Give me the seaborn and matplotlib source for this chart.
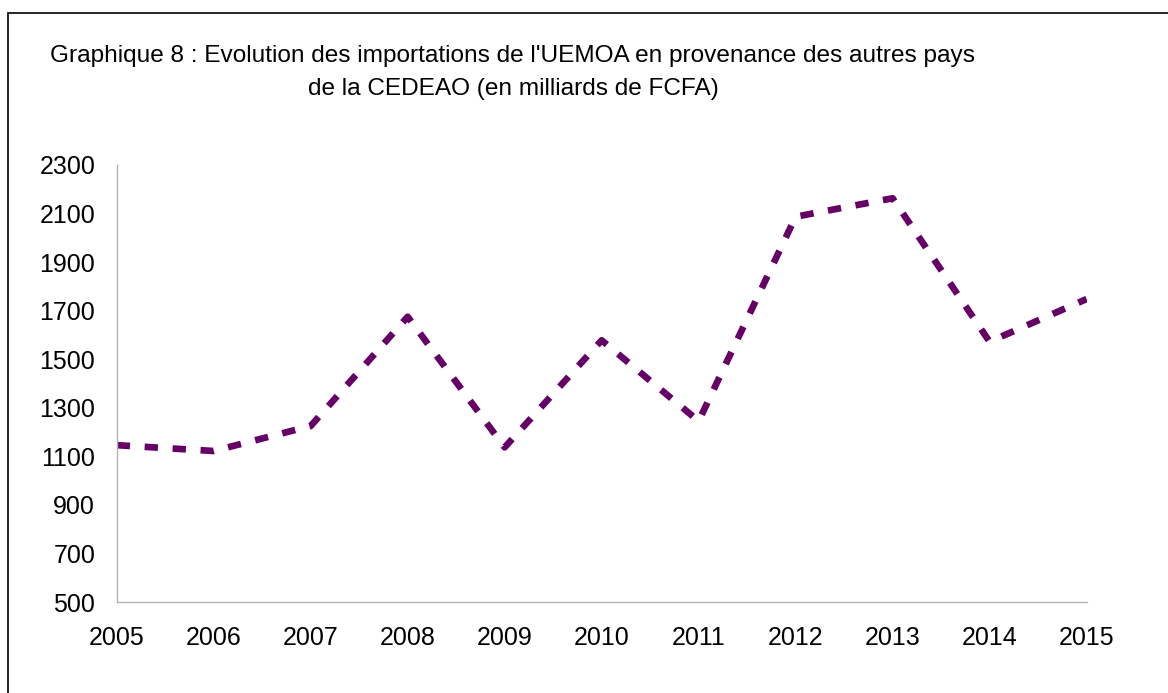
import matplotlib
matplotlib.use("Agg")
import matplotlib.pyplot as plt
import matplotlib.patches as mpatches
import seaborn as sns
import pandas as pd

years = [2005, 2006, 2007, 2008, 2009, 2010, 2011, 2012, 2013, 2014, 2015]
imports = [1146, 1122, 1225, 1675, 1137, 1578, 1245, 2087, 2163, 1572, 1748]
y_ticks = [500, 700, 900, 1100, 1300, 1500, 1700, 1900, 2100, 2300]
title_text = ("Graphique 8 : Evolution des importations de l'UEMOA en provenance des autres pays\n"
              "de la CEDEAO (en milliards de FCFA)")

sns.set_theme(style="white")
plt.rcParams['font.family'] = ['Liberation Sans', 'DejaVu Sans']

df = pd.DataFrame({"Année": years, "Importations": imports})

fig = plt.figure(figsize=(11.68, 6.93), dpi=100)
ax = fig.add_axes([116.7 / 1168, 1 - 602 / 693, (1086.6 - 116.7) / 1168, (602 - 165) / 693])

sns.lineplot(data=df, x="Année", y="Importations", ax=ax, color="#660066",
             linewidth=4.8, legend=False)
line = ax.get_lines()[0]
line.set_dashes((2.0, 2.2))
line.set_dash_capstyle("butt")
line.set_solid_joinstyle("round")

ax.set_xlim(2005, 2015)
ax.set_ylim(500, 2300)
ax.set_xticks(years)
ax.set_xticklabels([str(y) for y in years])
ax.set_yticks(y_ticks)
ax.set_yticklabels([str(v) for v in y_ticks])
ax.set_xlabel("")
ax.set_ylabel("")

gray = "#b3b3b3"
for side in ["top", "right"]:
    ax.spines[side].set_visible(False)
for side in ["left", "bottom"]:
    ax.spines[side].set_color(gray)
    ax.spines[side].set_linewidth(1.0)

ax.tick_params(axis="both", which="major", direction="out", length=8.5, width=1.0,
               color=gray, labelsize=18, labelcolor="black")
ax.tick_params(axis="x", pad=9)
ax.tick_params(axis="y", pad=7)
ax.grid(False)

fig.text(513 / 1168, 1 - 45 / 693, title_text, ha="center", va="top",
         fontsize=17.6, color="black", multialignment="center", linespacing=1.62)

border = mpatches.Rectangle((7.5 / 1168, -0.2), 1.5, (1 - 13.3 / 693) + 0.2,
                            transform=fig.transFigure, fill=False,
                            edgecolor="black", linewidth=1.2)
fig.patches.append(border)

fig.savefig("out.png", dpi=100)
